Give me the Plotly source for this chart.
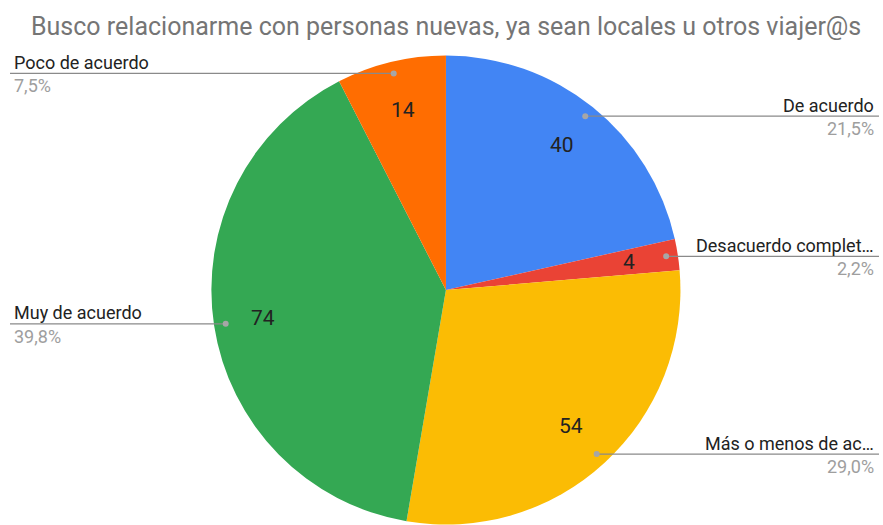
import math
import plotly.graph_objects as go

W, H = 883, 525

title_text = "Busco relacionarme con personas nuevas, ya sean locales u otros viajer@s"
categories = ["De acuerdo", "Desacuerdo complet…", "Más o menos de ac…", "Muy de acuerdo", "Poco de acuerdo"]
values = [40, 4, 54, 74, 14]
percent_labels = ["21,5%", "2,2%", "29,0%", "39,8%", "7,5%"]
colors = ["#4285F4", "#EA4335", "#FBBC04", "#34A853", "#FF6D01"]

dom_x = [0.2394, 0.7706]
dom_y = [0.0, 0.895]

fig = go.Figure(go.Pie(
    labels=categories,
    values=values,
    sort=False,
    direction="clockwise",
    rotation=0,
    marker=dict(colors=colors, line=dict(color="white", width=0)),
    textinfo="none",
    hoverinfo="label+value+percent",
    domain=dict(x=dom_x, y=dom_y),
    showlegend=False,
))

# geometry of the pie in pixels (derived from domain)
cx = (dom_x[0] + dom_x[1]) / 2 * W
cy = H - (dom_y[0] + dom_y[1]) / 2 * H
R = min((dom_x[1] - dom_x[0]) * W, (dom_y[1] - dom_y[0]) * H) / 2

def px(x):
    return x / W

def py(y):
    return 1 - y / H

total = sum(values)
cum = 0
shapes = []
annotations = []
for cat, v, pct in zip(categories, values, percent_labels):
    mid = (cum + v / 2) / total * 2 * math.pi
    cum += v
    sx, sy = math.sin(mid), -math.cos(mid)
    # value label inside
    annotations.append(dict(
        x=px(cx + 0.79 * R * sx), y=py(cy + 0.79 * R * sy), xref="paper", yref="paper",
        text=str(v), showarrow=False, font=dict(size=21, color="#222222"),
        xanchor="center", yanchor="middle"))
    # leader line
    dx, dy = cx + 0.95 * R * sx, cy + 0.95 * R * sy
    right = sx > 0
    ex = 879 if right else 10
    tx = 876 if right else 12
    shapes.append(dict(type="line", xref="paper", yref="paper",
                       x0=px(dx), y0=py(dy), x1=px(ex), y1=py(dy),
                       line=dict(color="#8a8a8a", width=1.3)))
    shapes.append(dict(type="circle", xref="paper", yref="paper",
                       x0=px(dx - 3), y0=py(dy - 3), x1=px(dx + 3), y1=py(dy + 3),
                       fillcolor="#a6a6a6", line=dict(width=0)))
    anchor = "right" if right else "left"
    annotations.append(dict(
        x=px(tx), y=py(dy + 1.5), xref="paper", yref="paper", text=cat,
        showarrow=False, xanchor=anchor, yanchor="bottom",
        font=dict(size=18, color="#222222")))
    annotations.append(dict(
        x=px(tx), y=py(dy), xref="paper", yref="paper", text=pct,
        showarrow=False, xanchor=anchor, yanchor="top",
        font=dict(size=18, color="#9e9e9e")))

annotations.append(dict(
    x=px(446), y=py(26), xref="paper", yref="paper", text=title_text,
    showarrow=False, xanchor="center", yanchor="middle",
    font=dict(size=25, color="#757575")))

fig.update_layout(
    width=W, height=H,
    margin=dict(l=0, r=0, t=0, b=0),
    paper_bgcolor="white",
    font=dict(family="Roboto, Arial, sans-serif"),
    shapes=shapes,
    annotations=annotations,
)

fig.write_html("out.html", config={"displayModeBar": False},
               post_script="document.body.style.margin='0';document.body.style.overflow='hidden';")
